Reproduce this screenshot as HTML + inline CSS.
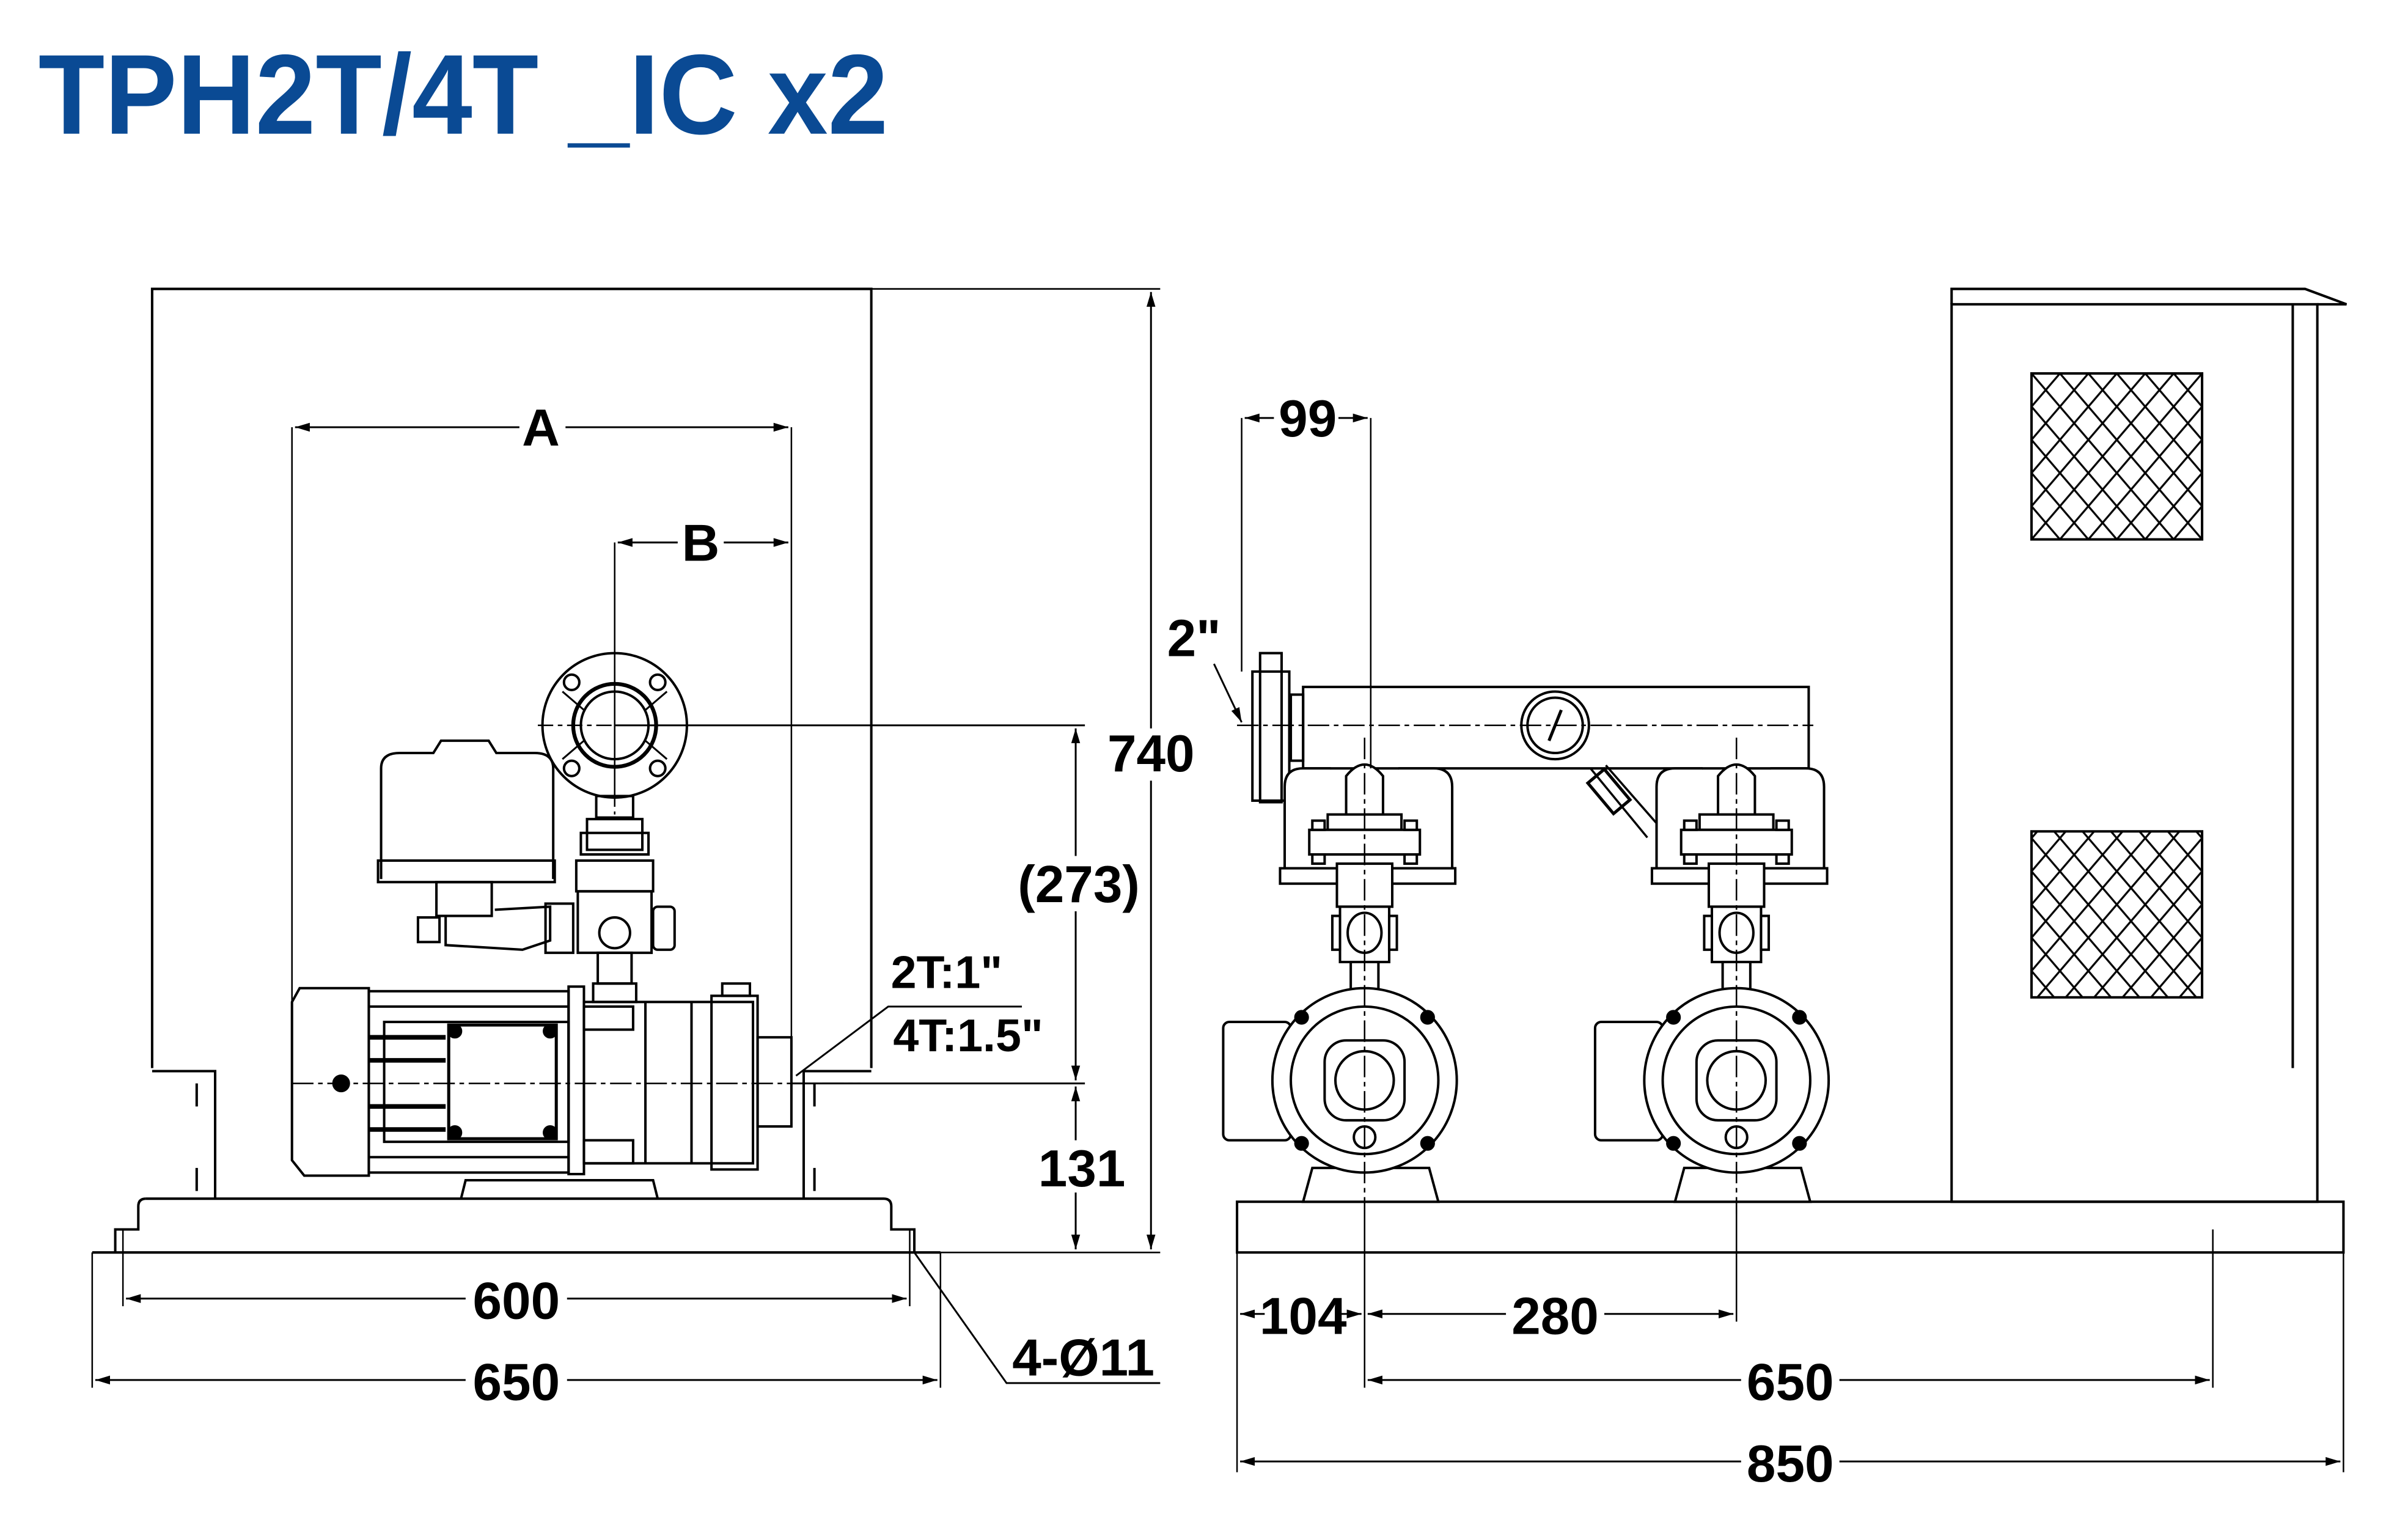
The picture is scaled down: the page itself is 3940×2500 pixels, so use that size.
<!DOCTYPE html>
<html><head><meta charset="utf-8"><style>
html,body{margin:0;padding:0;background:#fff;}
svg{display:block;}
.t{font-family:"Liberation Sans",sans-serif;font-weight:bold;fill:#000;}
</style></head><body>
<svg width="3940" height="2500" viewBox="0 0 1567 994.3" preserveAspectRatio="none" xmlns="http://www.w3.org/2000/svg">
<defs>
<pattern id="hx" width="18.5" height="21.6" patternUnits="userSpaceOnUse" x="1322" y="243">
<path d="M0,0 L18.5,21.6 M18.5,0 L0,21.6" stroke="#000" stroke-width="1.3" fill="none"/>
</pattern>
<g id="unit" fill="#fff" stroke="#000" stroke-width="1.6">
<path d="M-52,572 L-52,512 Q-52,500 -40,500 L-22,500 M22,500 L45,500 Q57,500 57,512 L57,572"/>
<rect x="-55" y="565" width="114" height="10"/>
<path d="M-12,540 L-12,505 Q0,490 12,505 L12,540 Z"/>
<rect x="-24" y="530" width="48" height="10"/>
<rect x="-36" y="540" width="72" height="16"/>
<rect x="-34" y="534" width="8" height="6"/><rect x="26" y="534" width="8" height="6"/>
<rect x="-34" y="556" width="8" height="6"/><rect x="26" y="556" width="8" height="6"/>
<rect x="-18" y="562" width="36" height="28"/>
<rect x="-16" y="590" width="32" height="36"/>
<ellipse cx="0" cy="607" rx="11" ry="13"/>
<rect x="-21" y="596" width="5" height="22"/><rect x="16" y="596" width="5" height="22"/>
<rect x="-9" y="626" width="18" height="22"/>
<rect x="-92" y="665" width="44" height="77" rx="4"/>
<path d="M-40,782 L-34,760 L42,760 L48,782 Z"/>
<circle cx="0" cy="703" r="60"/>
<circle cx="0" cy="703" r="48"/>
<rect x="-26" y="677" width="52" height="52" rx="14"/>
<circle cx="0" cy="703" r="19"/>
<circle cx="-41" cy="662" r="4" fill="#000"/><circle cx="41" cy="662" r="4" fill="#000"/>
<circle cx="-41" cy="744" r="4" fill="#000"/><circle cx="41" cy="744" r="4" fill="#000"/>
<circle cx="0" cy="740" r="7"/>
<line x1="0" y1="480" x2="0" y2="790" stroke-dasharray="14,3,3,3" stroke-width="1"/>
</g>
<marker id="ar" viewBox="0 0 10 6" refX="10" refY="3" markerWidth="8" markerHeight="5" orient="auto-start-reverse"><path d="M0,0 L10,3 L0,6 Z" fill="#000"/></marker>
</defs>
<rect width="1567" height="994.3" fill="#fff"/>
<text class="t" x="25" y="87" font-size="74" style="fill:#0a4a94" textLength="553" lengthAdjust="spacingAndGlyphs">TPH2T/4T _IC x2</text>

<g fill="none" stroke="#000" stroke-width="1.6">
<path d="M99,695 L99,188 L567,188 L567,695"/>
<line x1="567" y1="188" x2="755" y2="188" stroke-width="1"/>
<line x1="749" y1="190" x2="749" y2="813" stroke-width="1.2" marker-start="url(#ar)" marker-end="url(#ar)"/>
<line x1="612" y1="815" x2="755" y2="815" stroke-width="1"/>
<line x1="700" y1="474" x2="700" y2="703" stroke-width="1.2" marker-start="url(#ar)" marker-end="url(#ar)"/>
<line x1="700" y1="707" x2="700" y2="813" stroke-width="1.2" marker-start="url(#ar)" marker-end="url(#ar)"/>
<line x1="400" y1="472" x2="706" y2="472" stroke-width="1.2"/>
<line x1="515" y1="705" x2="706" y2="705" stroke-width="1.2"/>
<line x1="190" y1="278" x2="190" y2="700" stroke-width="1"/>
<line x1="515" y1="278" x2="515" y2="700" stroke-width="1"/>
<line x1="192" y1="278" x2="513" y2="278" stroke-width="1.2" marker-start="url(#ar)" marker-end="url(#ar)"/>
<line x1="400" y1="353" x2="400" y2="520" stroke-width="1"/>
<line x1="402" y1="353" x2="513" y2="353" stroke-width="1.2" marker-start="url(#ar)" marker-end="url(#ar)"/>
<path d="M99,697 L140,697 L140,780 M523,780 L523,697 L567,697"/>
<line x1="128" y1="705" x2="128" y2="720"/><line x1="128" y1="760" x2="128" y2="775"/>
<line x1="530" y1="705" x2="530" y2="720"/><line x1="530" y1="760" x2="530" y2="775"/>
<path d="M95,780 L575,780 Q580,780 580,785 L580,800 L595,800 L595,815"/>
<path d="M95,780 Q90,780 90,785 L90,800 L75,800 L75,815"/>
<line x1="60" y1="815" x2="612" y2="815"/>
<line x1="60" y1="815" x2="60" y2="903" stroke-width="1"/>
<line x1="612" y1="815" x2="612" y2="903" stroke-width="1"/>
<line x1="80" y1="800" x2="80" y2="850" stroke-width="1"/>
<line x1="592" y1="800" x2="592" y2="850" stroke-width="1"/>
<line x1="82" y1="845" x2="590" y2="845" stroke-width="1.2" marker-start="url(#ar)" marker-end="url(#ar)"/>
<line x1="62" y1="898" x2="610" y2="898" stroke-width="1.2" marker-start="url(#ar)" marker-end="url(#ar)"/>
<path d="M595,815 L655,900 L755,900" stroke-width="1.2"/>
<path d="M195,643 L240,643 L240,765 L198,765 L190,755 L190,652 Z"/>
<rect x="240" y="645" width="130" height="118"/>
<line x1="240" y1="655" x2="370" y2="655"/><line x1="240" y1="753" x2="370" y2="753"/>
<rect x="250" y="665" width="120" height="78"/>
<line x1="240" y1="675" x2="290" y2="675" stroke-width="3"/><line x1="240" y1="690" x2="290" y2="690" stroke-width="3"/>
<line x1="240" y1="720" x2="290" y2="720" stroke-width="3"/><line x1="240" y1="735" x2="290" y2="735" stroke-width="3"/>
<rect x="292" y="667" width="70" height="74" stroke-width="2"/>
<circle cx="296" cy="671" r="4" fill="#000"/><circle cx="358" cy="671" r="4" fill="#000"/>
<circle cx="296" cy="737" r="4" fill="#000"/><circle cx="358" cy="737" r="4" fill="#000"/>
<circle cx="222" cy="705" r="5" fill="#000"/>
<rect x="370" y="642" width="10" height="122"/>
<rect x="380" y="652" width="110" height="105"/>
<line x1="420" y1="652" x2="420" y2="757"/><line x1="450" y1="652" x2="450" y2="757"/>
<rect x="463" y="648" width="30" height="113"/>
<rect x="493" y="675" width="22" height="58"/>
<rect x="380" y="655" width="32" height="15"/><rect x="380" y="742" width="32" height="15"/>
<rect x="470" y="640" width="18" height="8"/>
<path d="M300,780 L303,768 L425,768 L428,780"/>
<line x1="190" y1="705" x2="560" y2="705" stroke-width="1" stroke-dasharray="14,3,3,3"/>
<path d="M248,572 L248,500 Q248,490 260,490 L282,490 L287,482 L318,482 L323,490 L348,490 Q360,490 360,500 L360,572"/>
<rect x="246" y="560" width="115" height="14"/>
<rect x="284" y="574" width="36" height="22"/>
<path d="M290,596 L290,615 L340,618 L358,612 L358,590 L322,592"/>
<rect x="272" y="597" width="14" height="16"/>
<rect x="355" y="588" width="18" height="32"/>
<rect x="375" y="560" width="50" height="20"/>
<rect x="376" y="580" width="48" height="40"/>
<circle cx="400" cy="607" r="10"/>
<rect x="425" y="590" width="14" height="28" rx="3"/>
<rect x="382" y="533" width="36" height="20"/>
<rect x="378" y="542" width="44" height="14"/>
<rect x="389" y="620" width="22" height="20"/>
<rect x="386" y="640" width="28" height="12"/>
<rect x="388" y="518" width="24" height="14"/>
<circle cx="400" cy="472" r="47"/>
<circle cx="400" cy="472" r="27" stroke-width="2.5"/>
<circle cx="400" cy="472" r="22"/>
<circle cx="372" cy="444" r="5"/><circle cx="428" cy="444" r="5"/><circle cx="372" cy="500" r="5"/><circle cx="428" cy="500" r="5"/>
<path d="M366,450 L380,462 M434,450 L420,462 M366,494 L380,482 M434,494 L420,482" stroke-width="1.2"/>
<line x1="400" y1="420" x2="400" y2="530" stroke-width="1" stroke-dasharray="10,3,3,3"/>
<line x1="350" y1="472" x2="450" y2="472" stroke-width="1" stroke-dasharray="10,3,3,3"/>
<path d="M518,700 L578,655 L665,655" stroke-width="1.2"/>

<rect x="805" y="782" width="720" height="33"/>
<rect x="1270" y="198" width="238" height="584"/>
<line x1="1492" y1="198" x2="1492" y2="695"/>
<path d="M1270,198 L1270,188 L1500,188 L1527,198 L1508,198"/>
<rect x="1322" y="243" width="111" height="108" fill="url(#hx)"/>
<rect x="1322" y="541" width="111" height="108" fill="url(#hx)"/>
<rect x="848" y="447" width="329" height="53" fill="#fff"/>
<rect x="840" y="452" width="8" height="43"/>
<rect x="815" y="437" width="24" height="84"/>
<rect x="820" y="425" width="14" height="97"/>
<circle cx="1012" cy="472" r="22"/><circle cx="1012" cy="472" r="18"/>
<line x1="1008" y1="482" x2="1016" y2="462" stroke-width="2"/>
<path d="M1035,500 L1072,545 M1045,498 L1080,538" stroke-width="1.4"/>
<rect x="1040" y="502" width="14" height="26" transform="rotate(-40 1047 515)" stroke-width="2"/>
<line x1="805" y1="472" x2="1180" y2="472" stroke-width="1" stroke-dasharray="14,3,3,3"/>
</g>
<use href="#unit" x="888" y="0"/>
<use href="#unit" x="1130" y="0"/>
<g fill="none" stroke="#000" stroke-width="1">
<line x1="808" y1="272" x2="808" y2="437"/>
<line x1="892" y1="272" x2="892" y2="500"/>
<line x1="810" y1="272" x2="890" y2="272" stroke-width="1.2" marker-start="url(#ar)" marker-end="url(#ar)"/>
<path d="M790,432 L808,470" stroke-width="1.2" marker-end="url(#ar)"/>
<line x1="805" y1="815" x2="805" y2="958"/>
<line x1="888" y1="782" x2="888" y2="903"/>
<line x1="1130" y1="782" x2="1130" y2="860"/>
<line x1="1440" y1="800" x2="1440" y2="903"/>
<line x1="1525" y1="815" x2="1525" y2="958"/>
<line x1="807" y1="855" x2="886" y2="855" stroke-width="1.2" marker-start="url(#ar)" marker-end="url(#ar)"/>
<line x1="890" y1="855" x2="1128" y2="855" stroke-width="1.2" marker-start="url(#ar)" marker-end="url(#ar)"/>
<line x1="890" y1="898" x2="1438" y2="898" stroke-width="1.2" marker-start="url(#ar)" marker-end="url(#ar)"/>
<line x1="807" y1="951" x2="1523" y2="951" stroke-width="1.2" marker-start="url(#ar)" marker-end="url(#ar)"/>
</g>
<g fill="#fff">
<rect x="338" y="262" width="30" height="32"/><rect x="441" y="337" width="30" height="32"/>
<rect x="718" y="474" width="62" height="34"/><rect x="658" y="557" width="88" height="36"/>
<rect x="673" y="742" width="62" height="34"/>
<rect x="303" y="828" width="66" height="34"/><rect x="303" y="881" width="66" height="34"/>
<rect x="829" y="256" width="42" height="32"/>
<rect x="823" y="838" width="50" height="34"/><rect x="980" y="838" width="64" height="34"/>
<rect x="1133" y="881" width="64" height="34"/><rect x="1133" y="934" width="64" height="34"/>
</g>
<g class="t" font-size="34" text-anchor="middle">
<text x="352" y="290">A</text>
<text x="456" y="365">B</text>
<text x="749" y="502">740</text>
<text x="702" y="587">(273)</text>
<text x="704" y="772">131</text>
<text x="336" y="858">600</text>
<text x="336" y="911">650</text>
<text x="705" y="895">4-Ø11</text>
<text x="616" y="643" font-size="30">2T:1"</text>
<text x="630" y="684" font-size="30">4T:1.5"</text>
<text x="851" y="284">99</text>
<text x="777" y="427">2"</text>
<text x="848" y="868">104</text>
<text x="1012" y="868">280</text>
<text x="1165" y="911">650</text>
<text x="1165" y="964">850</text>
</g>
</svg>
</body></html>
